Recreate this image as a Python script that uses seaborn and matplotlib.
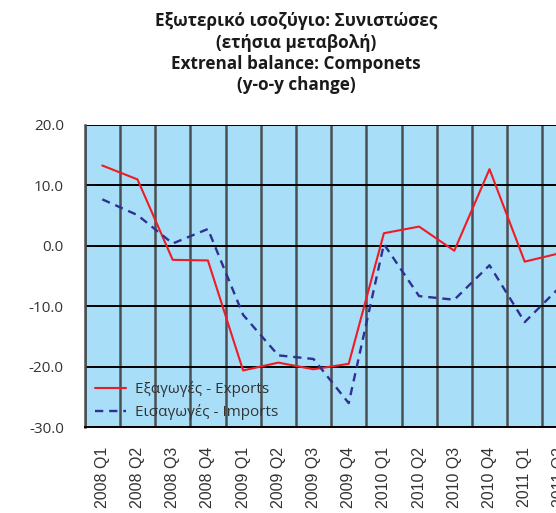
import numpy as np
import pandas as pd
import matplotlib
matplotlib.use("Agg")
import matplotlib.pyplot as plt
import matplotlib.transforms as mtransforms
import seaborn as sns

quarters = ["2008 Q1", "2008 Q2", "2008 Q3", "2008 Q4",
            "2009 Q1", "2009 Q2", "2009 Q3", "2009 Q4",
            "2010 Q1", "2010 Q2", "2010 Q3", "2010 Q4",
            "2011 Q1", "2011 Q2"]
exports = [13.3, 11.0, -2.3, -2.4, -20.6, -19.3, -20.4, -19.5,
           2.1, 3.2, -0.8, 12.7, -2.6, -1.2]
imports = [7.7, 5.1, 0.4, 2.8, -11.4, -18.1, -18.7, -26.0,
           0.3, -8.3, -8.9, -3.2, -12.6, -6.8]
y_ticks = [20, 10, 0, -10, -20, -30]

label_exp = "Εξαγωγές - Exports"
label_imp = "Εισαγωγές - Imports"
title = ("Εξωτερικό ισοζύγιο: Συνιστώσες\n(ετήσια μεταβολή)\n"
         "Extrenal balance: Componets\n(y-o-y change)")

df = pd.DataFrame({"pos": np.arange(len(quarters)), "Quarter": quarters,
                   "Exports": exports, "Imports": imports})

sns.set_style("white")
plt.rcParams["font.family"] = ["Open Sans", "DejaVu Sans"]

fig = plt.figure(figsize=(5.56, 5.13), dpi=100)
n = len(quarters)
ax = fig.add_axes([84.7 / 556, (513 - 427.3) / 513, n * 35.2 / 556, 302.3 / 513])
ax.set_facecolor("#A9DEF9")

sns.lineplot(data=df, x="pos", y="Exports", ax=ax, color="#EE1C25",
             linewidth=1.5, label=label_exp)
sns.lineplot(data=df, x="pos", y="Imports", ax=ax, color="#2E3192",
             linewidth=1.7, linestyle=(0, (3.5, 2.5)), label=label_imp)

ax.set_xlim(-0.5, n - 0.5)
ax.set_ylim(-30, 20)
ax.set_yticks(y_ticks)
ax.set_yticklabels([f"{v:.1f}" for v in y_ticks], fontsize=11, color="#333333")
ax.set_xticks(df["pos"])
ax.set_xticklabels(quarters, rotation=90, fontsize=11.5, color="#333333",
                   family="Liberation Sans")
shift = mtransforms.ScaledTranslation(3 / 100, 0, fig.dpi_scale_trans)
for lab in ax.get_xticklabels():
    lab.set_transform(lab.get_transform() + shift)
ax.set_xticks(np.arange(-0.5, n, 1), minor=True)
ax.tick_params(axis="x", which="both", length=0, pad=14)
ax.tick_params(axis="y", which="major", length=11, width=1, direction="out",
               color="black", pad=4)
ax.tick_params(axis="y", which="minor", length=0)
ax.grid(False)
ax.grid(True, which="minor", axis="x", color="#4a4f52", linewidth=1.8)
ax.grid(True, which="major", axis="y", color="black", linewidth=1.4)
ax.set_axisbelow(True)
for side in ["top", "right"]:
    ax.spines[side].set_visible(False)
ax.spines["left"].set_color("#4a4f52")
ax.spines["left"].set_linewidth(1.8)
ax.spines["bottom"].set_color("black")
ax.spines["bottom"].set_linewidth(1.4)
ax.set_xlabel("")
ax.set_ylabel("")

leg = ax.legend(loc="lower left", bbox_to_anchor=(0.0, -0.012), frameon=False,
                fontsize=11, handlelength=2.0, handletextpad=0.6,
                labelspacing=0.45, borderaxespad=0.3)
for t in leg.get_texts():
    t.set_color("#333333")

fig.text(296 / 556, 1 - 12 / 513, title, ha="center", va="top",
         fontsize=12.3, fontweight="bold", color="#1a1a1a", linespacing=1.25)

fig.savefig("out.png", dpi=100)
